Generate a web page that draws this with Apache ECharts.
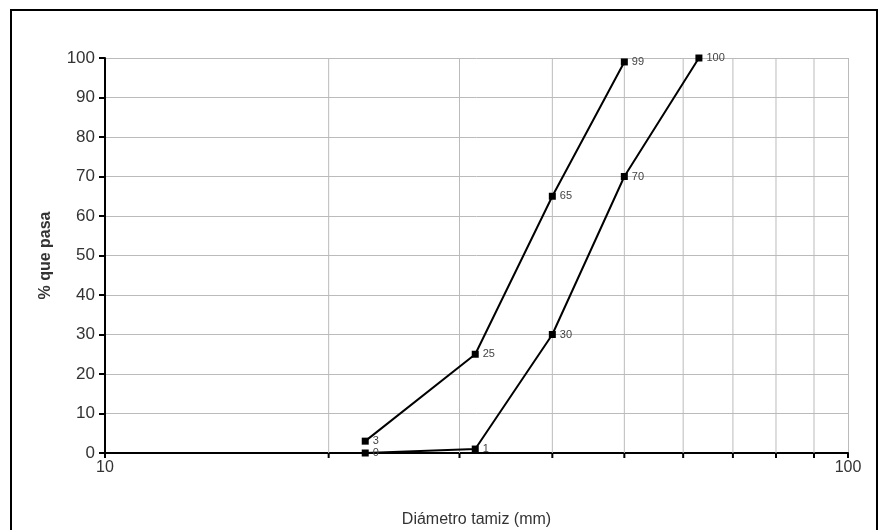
<!DOCTYPE html>
<html>
<head>
<meta charset="utf-8">
<script src="https://cdn.jsdelivr.net/npm/echarts@6/dist/echarts.min.js"></script>
<style>
  body { margin: 0; background: #fff; }
  #frame { position: absolute; left: 10px; top: 9px; width: 864px; height: 540px; border: 2px solid #000; border-bottom: none; }
  #chart { position: absolute; left: 0; top: 0; width: 883px; height: 530px; }
</style>
</head>
<body>
<div id="frame"></div>
<div id="chart"></div>
<script>
// tamaños de tamiz (mm) y % que pasa
var sizesA = [22.4, 31.5, 40, 50];
var passA = [3, 25, 65, 99];
var sizesB = [22.4, 31.5, 40, 50, 63];
var passB = [0, 1, 30, 70, 100];
// lineas secundarias del eje logaritmico
var minorX = [20, 30, 40, 50, 60, 70, 80, 90];

function pairs(xs, ys) {
	var out = [];
	for (var i = 0; i < xs.length; i++) out.push([xs[i], ys[i]]);
	return out;
}

var myChart = echarts.init(document.getElementById('chart'));

var labelStyle = { show: true, position: 'right', distance: 4, fontSize: 11, color: '#444', fontFamily: 'Liberation Sans' };

var option = {
	animation: false,
	grid: { left: 105, right: 35, top: 58, bottom: 77, outerBoundsMode: 'none', containLabel: false },
	xAxis: {
		type: 'log', logBase: 10, min: 10, max: 100,
		name: 'Diámetro tamiz (mm)', nameLocation: 'middle', nameGap: 59,
		nameTextStyle: { fontSize: 16, color: '#333', fontFamily: 'Liberation Sans' },
		axisLine: { lineStyle: { color: '#000', width: 2 } },
		axisTick: { show: true, length: 5, lineStyle: { color: '#000', width: 2 } },
		axisLabel: { fontSize: 16, color: '#333', margin: 7, fontFamily: 'Liberation Sans' },
		splitLine: { show: true, lineStyle: { color: '#bbb', width: 1 } }
	},
	yAxis: {
		type: 'value', min: 0, max: 100, interval: 10,
		name: '% que pasa', nameLocation: 'middle', nameGap: 51, nameRotate: 90,
		nameTextStyle: { fontSize: 16, fontWeight: 'bold', color: '#333', fontFamily: 'Liberation Sans' },
		axisLine: { show: true, lineStyle: { color: '#000', width: 2 } },
		axisTick: { show: true, length: 6, lineStyle: { color: '#000', width: 2 } },
		axisLabel: { fontSize: 17, color: '#333', margin: 10, fontFamily: 'Liberation Sans' },
		splitLine: { show: true, lineStyle: { color: '#bbb', width: 1 } }
	},
	series: [{
		type: 'custom',
		silent: true,
		clip: false,
		z: 1,
		data: minorX.map(function(v) { return [v, 0]; }),
		renderItem: function(params, api) {
			var x = api.value(0);
			var p0 = api.coord([x, 0]);
			var p1 = api.coord([x, 100]);
			return {
				type: 'group',
				children: [{
					type: 'line',
					shape: { x1: p0[0], y1: p0[1], x2: p1[0], y2: p1[1] },
					style: { stroke: '#bbb', lineWidth: 1 }
				}, {
					type: 'line',
					shape: { x1: p0[0], y1: p0[1], x2: p0[0], y2: p0[1] + 5 },
					style: { stroke: '#000', lineWidth: 2 }
				}]
			};
		}
	}, {
		type: 'line',
		z: 3,
		data: pairs(sizesA, passA),
		symbol: 'rect', symbolSize: 7,
		itemStyle: { color: '#000' },
		lineStyle: { color: '#000', width: 2 },
		label: labelStyle
	}, {
		type: 'line',
		z: 3,
		data: pairs(sizesB, passB),
		symbol: 'rect', symbolSize: 7,
		itemStyle: { color: '#000' },
		lineStyle: { color: '#000', width: 2 },
		label: labelStyle
	}]
};

myChart.setOption(option);
</script>
</body>
</html>
